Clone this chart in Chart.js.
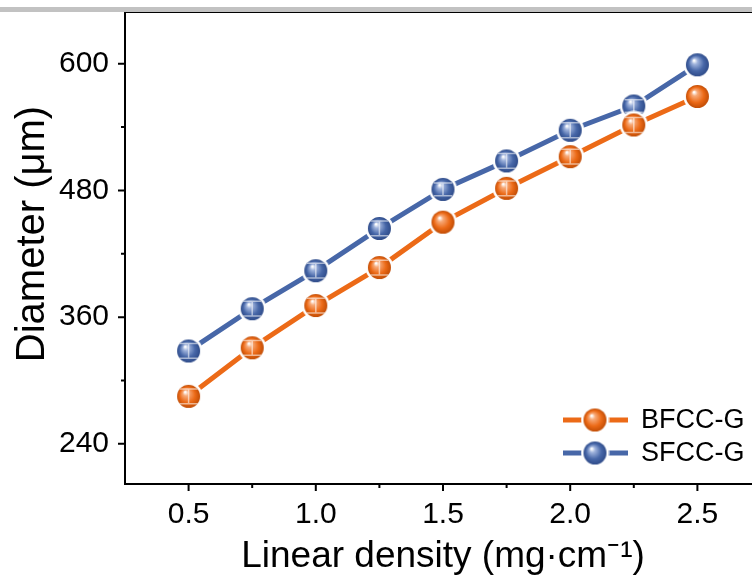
<!DOCTYPE html>
<html>
<head>
<meta charset="utf-8">
<script src="https://cdn.jsdelivr.net/npm/chart.js@4.4.0/dist/chart.umd.min.js"></script>
<style>
  html, body { margin: 0; padding: 0; background: #fff; overflow: hidden; }
  #wrap { position: relative; width: 752px; height: 579px; overflow: hidden; }
  #bar { position: absolute; left: 0; top: 7px; width: 752px; height: 5px; background: #c2c2c2; z-index: 2; }
  canvas { position: absolute; left: 0; top: 0; }
</style>
</head>
<body>
<div id="wrap">
  <div id="bar"></div>
  <canvas id="myChart" width="770" height="579"></canvas>
</div>
<script>
// data
const densities = [0.5, 0.75, 1.0, 1.25, 1.5, 1.75, 2.0, 2.25, 2.5];
const bfccDiameter = [285, 331, 371, 407, 450, 482, 512, 542, 569];
const sfccDiameter = [328, 368, 404, 444, 481, 508, 537, 560, 599];
const bfccError = [7, 7, 7, 7, 0, 7, 7, 7, 0];
const sfccError = [7, 7, 7, 7, 6, 7, 7, 6, 0];
const seriesNames = ["BFCC-G", "SFCC-G"];
const xTicks = [0.5, 1.0, 1.5, 2.0, 2.5];
const xMinorTicks = [0.75, 1.25, 1.75, 2.25];
const yTicks = [240, 360, 480, 600];
const yMinorTicks = [300, 420, 540];
const yTitle = "Diameter (μm)";
const xTitle = "Linear density (mg·cm⁻¹)";

const FONT = "'Liberation Sans', Arial, sans-serif";
const orange = "#ec6a17";
const blue = "#4767a8";

// shiny ball marker with a white ring round it
function sphere(color, light, dark, r) {
  const c = document.createElement("canvas");
  const s = Math.ceil(2 * (r + 3));
  c.width = c.height = s;
  const g = c.getContext("2d");
  const cx = s / 2;
  g.fillStyle = "#fff";
  g.beginPath();
  g.arc(cx, cx, r + 2.5, 0, Math.PI * 2);
  g.fill();
  const grad = g.createRadialGradient(cx - r * 0.3, cx - r * 0.38, r * 0.05, cx, cx, r);
  grad.addColorStop(0, "#ffffff");
  grad.addColorStop(0.22, light);
  grad.addColorStop(0.65, color);
  grad.addColorStop(1, dark);
  g.fillStyle = grad;
  g.beginPath();
  g.arc(cx, cx, r, 0, Math.PI * 2);
  g.fill();
  return c;
}
const orangeBall = sphere(orange, "#f7a977", "#c24d05", 11.5);
const blueBall = sphere(blue, "#9fb3dc", "#2f4c8a", 11.5);

const boxPlugin = {
  id: "box",
  afterDatasetsDraw(chart) {
    const ctx = chart.ctx;
    // faint white error bars over the balls
    const errs = [bfccError, sfccError];
    chart.data.datasets.forEach((ds, i) => {
      const meta = chart.getDatasetMeta(i);
      meta.data.forEach((pt, j) => {
        const e = errs[i][j];
        if (!e) return;
        const y1 = chart.scales.y.getPixelForValue(ds.data[j].y + e);
        const y2 = chart.scales.y.getPixelForValue(ds.data[j].y - e);
        ctx.save();
        ctx.strokeStyle = "rgba(255,255,255,0.55)";
        ctx.lineWidth = 1.5;
        ctx.beginPath();
        ctx.moveTo(pt.x, y1); ctx.lineTo(pt.x, y2);
        ctx.moveTo(pt.x - 9, y1); ctx.lineTo(pt.x + 9, y1);
        ctx.moveTo(pt.x - 9, y2); ctx.lineTo(pt.x + 9, y2);
        ctx.stroke();
        ctx.restore();
      });
    });
  },
  afterDraw(chart) {
    const ctx = chart.ctx;
    const a = chart.chartArea;
    const xs = chart.scales.x, ys = chart.scales.y;
    ctx.save();
    ctx.strokeStyle = "#000";
    ctx.lineWidth = 2;
    ctx.strokeRect(a.left, a.top, a.right - a.left, a.bottom - a.top);
    ctx.beginPath();
    xTicks.forEach(v => { const x = xs.getPixelForValue(v); ctx.moveTo(x, a.bottom); ctx.lineTo(x, a.bottom + 7); });
    xMinorTicks.forEach(v => { const x = xs.getPixelForValue(v); ctx.moveTo(x, a.bottom); ctx.lineTo(x, a.bottom + 4); });
    yTicks.forEach(v => { const y = ys.getPixelForValue(v); ctx.moveTo(a.left, y); ctx.lineTo(a.left - 7, y); });
    yMinorTicks.forEach(v => { const y = ys.getPixelForValue(v); ctx.moveTo(a.left, y); ctx.lineTo(a.left - 4, y); });
    ctx.stroke();

    // y title
    ctx.fillStyle = "#000";
    ctx.save();
    ctx.translate(33, 234);
    ctx.rotate(-Math.PI / 2);
    ctx.font = "40px " + FONT;
    ctx.textAlign = "center";
    ctx.textBaseline = "middle";
    ctx.fillText(yTitle, 0, 0);
    ctx.restore();

    // legend
    const balls = [orangeBall, blueBall];
    chart.data.datasets.forEach((ds, i) => {
      const y = a.bottom - 64 + i * 33;
      ctx.strokeStyle = ds.borderColor;
      ctx.lineWidth = 5;
      ctx.beginPath();
      ctx.moveTo(563, y); ctx.lineTo(628, y);
      ctx.stroke();
      const b = balls[i];
      ctx.drawImage(b, 595 - b.width / 2, y - b.height / 2);
      ctx.fillStyle = "#000";
      ctx.font = "27px " + FONT;
      ctx.textBaseline = "middle";
      ctx.fillText(ds.label, 641, y + 1);
    });
    ctx.restore();
  }
};

const ctx = document.getElementById("myChart").getContext("2d");
const myChart = new Chart(ctx, {
  type: "line",
  data: {
    datasets: [
      {
        label: seriesNames[0],
        data: densities.map((d, i) => ({ x: d, y: bfccDiameter[i] })),
        borderColor: orange,
        borderWidth: 5,
        pointStyle: orangeBall,
        fill: false,
      },
      {
        label: seriesNames[1],
        data: densities.map((d, i) => ({ x: d, y: sfccDiameter[i] })),
        borderColor: blue,
        borderWidth: 5,
        pointStyle: blueBall,
        fill: false,
      },
    ],
  },
  options: {
    responsive: false,
    animation: false,
    layout: { padding: { top: 12, right: 7, left: 0, bottom: 0 } },
    plugins: { legend: { display: false }, tooltip: { enabled: false } },
    scales: {
      x: {
        type: "linear",
        position: "bottom",
        min: 0.25,
        max: 2.75,
        afterBuildTicks: s => { s.ticks = xTicks.map(v => ({ value: v })); },
        afterFit: s => { s.height = 95; s.paddingLeft = 0; s.paddingRight = 0; },
        grid: { display: false, drawTicks: true, tickLength: 8 },
        border: { display: false },
        ticks: {
          color: "#000",
          padding: 5,
          font: { family: FONT, size: 30 },
          callback: v => Number(v).toFixed(1),
        },
        title: {
          display: true,
          text: xTitle,
          color: "#000",
          font: { family: FONT, size: 37 },
          padding: { top: 0, bottom: 0 },
        },
      },
      y: {
        type: "linear",
        position: "left",
        min: 202,
        max: 649,
        afterBuildTicks: s => { s.ticks = yTicks.map(v => ({ value: v })); },
        afterFit: s => { s.width = 125; s.paddingTop = 0; s.paddingBottom = 0; },
        grid: { display: false, drawTicks: true, tickLength: 8 },
        border: { display: false },
        ticks: {
          color: "#000",
          padding: 8,
          font: { family: FONT, size: 30 },
        },
        title: { display: false },
      },
    },
  },
  plugins: [boxPlugin],
});
</script>
</body>
</html>
